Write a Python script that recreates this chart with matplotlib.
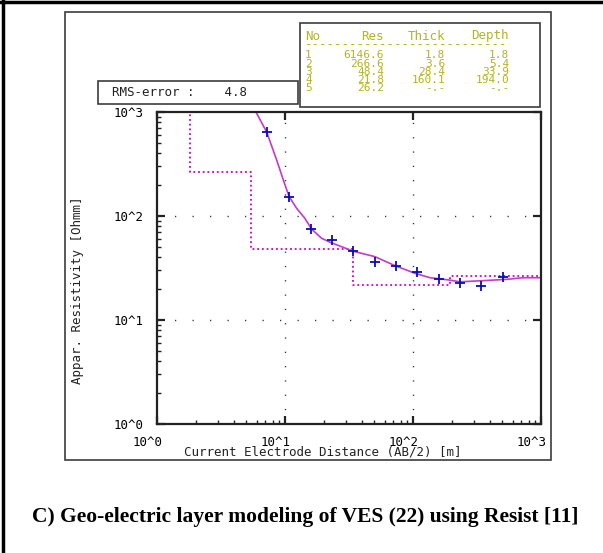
import matplotlib

matplotlib.use("Agg")
import matplotlib.pyplot as plt
import matplotlib.patches as mpatches
import matplotlib.transforms as mtransforms
import numpy as np

# layer model from the inversion
layer_no = [1, 2, 3, 4, 5]
layer_res = [6146.6, 266.6, 48.4, 21.8, 26.2]
layer_thick = [1.8, 3.6, 28.4, 160.1, None]
layer_depth = [1.8, 5.4, 33.9, 194.0, None]
rms_error = 4.8

# field measurements (AB/2, apparent resistivity)
obs_ab2 = [7.27, 10.7, 16.1, 23.3, 33.8, 50.5, 73.6, 107, 160, 233, 340, 502]
obs_rho = [638, 152, 75, 58.7, 46.0, 36.1, 33.0, 29.1, 24.9, 22.5, 21.2, 25.9]

# modelled sounding curve
fit_ab2 = [5.93, 7.2, 8.61, 10.0, 10.8, 12.3, 14.3, 16.1, 19.3, 22.5, 28.5, 33.8,
           50.5, 72.3, 103.7, 136, 189, 233, 354, 540, 723, 1000]
fit_rho = [1000, 640, 345, 199, 153, 119, 95, 75, 61.1, 55.9, 50.0, 46.0,
           40.6, 33.3, 28.1, 25.5, 24.3, 23.3, 23.9, 24.6, 25.5, 25.5]

W, H = 603, 553
MONO = "DejaVu Sans Mono"
FS = 9
TABLE_FS = 8
TABLE_COLOR = "#b4b41e"


def fx(px):
    return px / W


def fy(py):
    return 1 - py / H


def num(v):
    return "-.-" if v is None else f"{v:.1f}"


fig = plt.figure(figsize=(W / 100, H / 100), dpi=100)

# panel border (left and top) and program window
fig.add_artist(plt.Line2D([fx(3), fx(3)], [0, 1], color="black", lw=2.5))
fig.add_artist(plt.Line2D([0, 1], [fy(1.5), fy(1.5)], color="black", lw=2.5))
fig.add_artist(mpatches.Rectangle((fx(65), fy(460)), fx(551 - 65), (460 - 12) / H,
                                  fill=False, ec="#3c3c3c", lw=1.2))

# RMS box and layer table box
fig.add_artist(mpatches.Rectangle((fx(98), fy(104)), fx(298 - 98), (104 - 81) / H,
                                  fill=False, ec="#3c3c3c", lw=1.2))
fig.text(fx(112), fy(93), f"RMS-error :    {rms_error}", family=MONO, fontsize=FS,
         va="center", ha="left", color="#222222")
fig.add_artist(mpatches.Rectangle((fx(300), fy(107)), fx(540 - 300), (107 - 23) / H,
                                  fill=False, ec="#3c3c3c", lw=1.2))

col_right = [384, 445, 509]
fig.text(fx(305), fy(36), "No", family=MONO, fontsize=FS, color=TABLE_COLOR, va="center")
for name, xr in zip(["Res", "Thick", "Depth"], col_right):
    fig.text(fx(xr), fy(36), name, family=MONO, fontsize=FS, color=TABLE_COLOR,
             va="center", ha="right")
fig.text(fx(305), fy(45), "-" * 27, family=MONO, fontsize=FS, color=TABLE_COLOR,
         va="center", ha="left")

# rows are packed tightly, as in the program's own table
for i, (n, r, t, d) in enumerate(zip(layer_no, layer_res, layer_thick, layer_depth)):
    yy = fy(55.5 + i * 8.2)
    fig.text(fx(305), yy, str(n), family=MONO, fontsize=TABLE_FS, color=TABLE_COLOR,
             va="center", ha="left")
    for txt, xr in zip([f"{r:.1f}", num(t), num(d)], col_right):
        fig.text(fx(xr), yy, txt, family=MONO, fontsize=TABLE_FS, color=TABLE_COLOR,
                 va="center", ha="right")

# sounding plot
ax = fig.add_axes([fx(157), fy(424), fx(541 - 157), (424 - 112) / H])
ax.set_xscale("log")
ax.set_yscale("log")
ax.set_xlim(1, 1000)
ax.set_ylim(1, 1000)
for s in ax.spines.values():
    s.set_color("#222222")
    s.set_linewidth(1.6)

for gx in [10, 100]:
    ax.axvline(gx, color="#333333", lw=1.0, ls=(0, (0.9, 9.4)))
for gy in [10, 100]:
    ax.axhline(gy, color="#333333", lw=1.0, ls=(0, (0.9, 11.7)))

# layered model as a step curve
step_x = [1]
step_y = [layer_res[0]]
for res, depth in zip(layer_res[1:], layer_depth[:-1]):
    step_x += [depth, depth]
    step_y += [step_y[-1], res]
step_x.append(1000)
step_y.append(layer_res[-1])
ax.plot(step_x, step_y, color="#cc00cc", lw=1.3, ls=(0, (1, 1.6)))

ax.plot(fit_ab2, fit_rho, color="#c43cc4", lw=1.2)
ax.plot(obs_ab2, obs_rho, ls="none", marker="+", ms=7.5, mew=1.3, color="#0a0ac0")

ax.xaxis.set_major_locator(matplotlib.ticker.LogLocator(base=10, numticks=10))
ax.yaxis.set_major_locator(matplotlib.ticker.LogLocator(base=10, numticks=10))
fmt = matplotlib.ticker.FuncFormatter(lambda v, p: f"10^{int(round(np.log10(v)))}")
ax.xaxis.set_major_formatter(fmt)
ax.yaxis.set_major_formatter(fmt)
ax.xaxis.set_minor_formatter(matplotlib.ticker.NullFormatter())
ax.yaxis.set_minor_formatter(matplotlib.ticker.NullFormatter())
ax.tick_params(which="major", direction="in", length=6, width=1.6, color="#222222",
               top=True, right=True, labelsize=FS, labelfontfamily=MONO)
ax.tick_params(which="minor", direction="in", length=3, width=1.0, color="#222222",
               top=False, right=False)
ax.tick_params(axis="y", which="major", pad=10)
ax.tick_params(axis="x", which="major", pad=9)

fig.canvas.draw()
shift = mtransforms.ScaledTranslation(6 / 100, 0, fig.dpi_scale_trans)
for lab in ax.get_xticklabels():
    lab.set_horizontalalignment("right")
    lab.set_transform(lab.get_transform() + shift)

fig.text(fx(323), fy(452), "Current Electrode Distance (AB/2) [m]", family=MONO,
         fontsize=FS, ha="center", va="center", color="#222222")
fig.text(fx(77), fy(290), "Appar. Resistivity [Ohmm]", family=MONO, fontsize=FS,
         ha="center", va="center", rotation=90, color="#222222")

fig.text(fx(305), fy(517), "C) Geo-electric layer modeling of VES (22) using Resist [11]",
         family="Liberation Serif", fontweight="bold", fontsize=15.5, ha="center",
         va="center")

fig.savefig("out.png", dpi=100)
